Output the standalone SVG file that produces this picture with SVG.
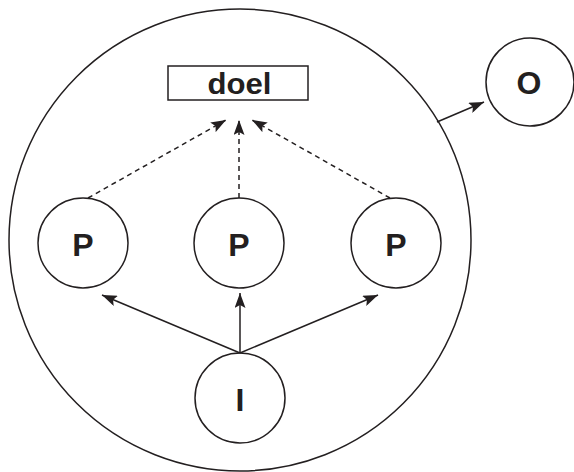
<svg xmlns="http://www.w3.org/2000/svg" width="574" height="472" viewBox="0 0 574 472">
<style>
.c{fill:#fff;stroke:#231f20;stroke-width:1.5}
.t{font-family:"Liberation Sans",Arial,sans-serif;font-weight:bold;font-size:32px;fill:#231f20;text-anchor:middle}
.l{stroke:#231f20;stroke-width:1.5;fill:none}
.d{stroke-dasharray:5,4}
</style>
<defs>
<marker id="b" viewBox="0 0 15 11" refX="15" refY="5.5" markerWidth="15" markerHeight="11" markerUnits="userSpaceOnUse" orient="auto"><path d="M0,0 L15,5.5 L0,11 L3,5.5 Z" fill="#231f20"/></marker>
</defs>
<g id="system"><circle class="c" cx="240" cy="240" r="231"/></g>
<g id="doel"><rect class="c" x="168" y="66" width="140" height="34"/><text class="t" x="239.5" y="94" style="font-size:29px" textLength="64" lengthAdjust="spacingAndGlyphs">doel</text></g>
<g id="O"><circle class="c" cx="530" cy="82" r="44"/><text class="t" x="529" y="94">O</text></g>
<g id="P1"><circle class="c" cx="83" cy="243" r="45"/><text class="t" x="83" y="256">P</text></g>
<g id="P2"><circle class="c" cx="239" cy="243" r="45"/><text class="t" x="239" y="256">P</text></g>
<g id="P3"><circle class="c" cx="396" cy="243" r="45"/><text class="t" x="396" y="256">P</text></g>
<g id="I"><circle class="c" cx="240" cy="398" r="45"/><text class="t" x="240" y="411">I</text></g>
<g id="connectors">
<line class="l" x1="437" y1="122" x2="484" y2="102" marker-end="url(#b)"/>
<line class="l" x1="240" y1="353" x2="102" y2="295" marker-end="url(#b)"/>
<line class="l" x1="240" y1="353" x2="240" y2="293" marker-end="url(#b)"/>
<line class="l" x1="240" y1="353" x2="378" y2="295" marker-end="url(#b)"/>
<line class="l d" x1="88" y1="198" x2="226" y2="120" marker-end="url(#b)"/>
<line class="l d" x1="239" y1="198" x2="239" y2="120" marker-end="url(#b)"/>
<line class="l d" x1="390" y1="198" x2="252" y2="120" marker-end="url(#b)"/>
</g>
</svg>
